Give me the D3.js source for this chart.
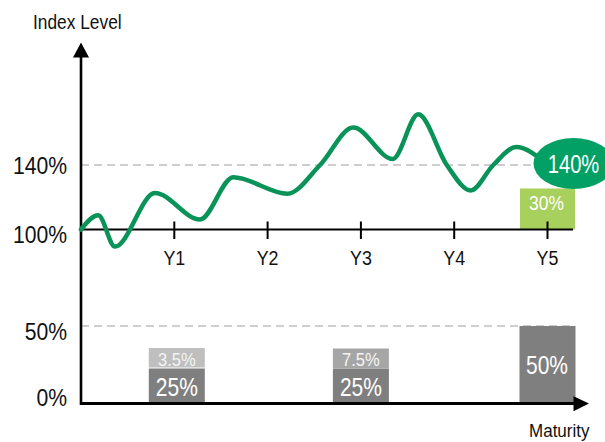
<!DOCTYPE html>
<html>
<head>
<meta charset="utf-8">
<script src="https://cdn.jsdelivr.net/npm/d3@7/dist/d3.min.js"></script>
<style>
  html, body { margin: 0; padding: 0; background: #ffffff; }
  svg { display: block; }
  text { font-family: "Liberation Sans", Arial, sans-serif; }
</style>
</head>
<body>
<svg id="chart" width="605" height="442"></svg>
<script>
// ---------------- DATA ----------------
const yearTicks = [1, 2, 3, 4, 5];
const yearLabels = ["Y1", "Y2", "Y3", "Y4", "Y5"];

// index level path (time in years, level in %)
const pathYears  = [0, 0.185, 0.364, 0.793, 1.275, 1.632, 2.213, 2.562, 2.918, 3.341, 3.615, 3.920, 4.177, 4.419, 4.662, 5.0];
const pathLevels = [100, 108.8, 89.4, 122.6, 106.2, 132.4, 122.2, 140, 163.2, 143.7, 171.4, 140, 124.2, 140, 151.1, 140];

const levelTicks = [100, 140];
const levelTickLabels = ["100%", "140%"];
const payoutTicks = [0, 50];
const payoutTickLabels = ["0%", "50%"];

const redemptionYears  = [1, 3, 5];
const redemptionValues = [25, 25, 50];
const couponYears  = [1, 3];
const couponValues = [3.5, 7.5];
const finalCouponYear = 5;
const finalCoupon = 30;
const finalLevel = 140;

const yTitle = "Index Level";
const xTitle = "Maturity";

// ---------------- LAYOUT / STYLE ----------------
const svg = d3.select("#chart");
const axisX = 81;
const SX = 0.87; // horizontal text compression

const x = d3.scaleLinear().domain([0, 5]).range([81, 547.5]);
const yTop = d3.scaleLinear().domain([100, 140]).range([229.5, 165]);
const yLow = d3.scaleLinear().domain([0, 25, 50]).range([403.5, 368.5, 326]);

const C = {
  line: "#0a9358",
  bubble: "#03a065",
  coupon5: "#a8d05c",
  dark: "#7f7f7f",
  light1: "#bfbfbf",
  light3: "#a6a6a6",
  dash: "#bfbfbf"
};

function txt(g, s, px, py, size, anchor, fill, sx) {
  return g.append("text")
    .attr("transform", `translate(${px},${py}) scale(${sx === undefined ? SX : sx},1)`)
    .attr("text-anchor", anchor)
    .attr("font-size", size)
    .attr("fill", fill)
    .text(s);
}

const g = svg.append("g");

// dashed reference lines
g.append("line").attr("x1", axisX).attr("x2", 575)
  .attr("y1", yTop(140)).attr("y2", yTop(140))
  .attr("stroke", C.dash).attr("stroke-width", 1.5).attr("stroke-dasharray", "8,5");
g.append("line").attr("x1", axisX).attr("x2", 575)
  .attr("y1", yLow(50)).attr("y2", yLow(50))
  .attr("stroke", C.dash).attr("stroke-width", 1.5).attr("stroke-dasharray", "8,5");

// final coupon box (30%)
const bw = 56;
const finalBoxH = 41;
g.append("rect")
  .attr("x", x(finalCouponYear) - bw / 2 + 0.5).attr("width", bw - 1)
  .attr("y", yTop(100) - finalBoxH).attr("height", finalBoxH)
  .attr("fill", C.coupon5);
txt(g, finalCoupon + "%", x(finalCouponYear) - 1, yTop(100) - 19.5, 20, "middle", "#ffffff");

// redemption bars
redemptionYears.forEach((yr, i) => {
  const v = redemptionValues[i];
  g.append("rect")
    .attr("x", x(yr) - bw / 2 + (yr === 1 ? 2.5 : 0)).attr("width", bw)
    .attr("y", yLow(v)).attr("height", yLow(0) - yLow(v))
    .attr("fill", C.dark);
});
// coupon boxes on top of redemption bars
const couponBoxH = 20;
couponYears.forEach((yr, i) => {
  const idx = redemptionYears.indexOf(yr);
  const base = yLow(redemptionValues[idx]);
  const off = (yr === 1 ? 2.5 : 0);
  g.append("rect")
    .attr("x", x(yr) - bw / 2 + off).attr("width", bw)
    .attr("y", base - couponBoxH - (yr === 1 ? 0.5 : 0)).attr("height", couponBoxH - (yr === 1 ? 0.5 : 0))
    .attr("fill", yr === 1 ? C.light1 : C.light3);
  txt(g, couponValues[i] + "%", x(yr) + off, base - 2.5, 19, "middle", "#f4f4f4");
});
redemptionYears.forEach((yr, i) => {
  const v = redemptionValues[i];
  const off = (yr === 1 ? 2.5 : 0);
  const cy = v === 50 ? (yLow(v) + yLow(0)) / 2 + 9.5 : yLow(0) - 8;
  txt(g, v + "%", x(yr) + off - (v === 50 ? 0.5 : 0), cy, 25, "middle", "#ffffff", 0.84);
});

// upper horizontal axis
g.append("line").attr("x1", axisX).attr("x2", 573)
  .attr("y1", yTop(100)).attr("y2", yTop(100))
  .attr("stroke", "#000").attr("stroke-width", 2);
yearTicks.forEach((yr, i) => {
  g.append("line").attr("x1", x(yr)).attr("x2", x(yr))
    .attr("y1", yTop(100) - 8).attr("y2", yTop(100) + 9.5)
    .attr("stroke", "#000").attr("stroke-width", 2);
  txt(g, yearLabels[i], x(yr), 265, 20.5, "middle", "#111");
});

// bottom axis with arrow
g.append("line").attr("x1", axisX).attr("x2", 576)
  .attr("y1", yLow(0)).attr("y2", yLow(0))
  .attr("stroke", "#000").attr("stroke-width", 3);
g.append("path")
  .attr("d", `M573.5,${yLow(0) - 7.2}L589,${yLow(0)}L573.5,${yLow(0) + 7.8}Z`)
  .attr("fill", "#000");

// vertical axis with arrow
g.append("line").attr("x1", axisX).attr("x2", axisX)
  .attr("y1", 55).attr("y2", yLow(0) + 1.5)
  .attr("stroke", "#000").attr("stroke-width", 2.6);
g.append("path")
  .attr("d", `M${axisX - 8},57.5L${axisX},42.5L${axisX + 8},57.5Z`)
  .attr("fill", "#000");

// y tick labels
const levelLabelDy = { 100: 13.5, 140: 9 };
levelTicks.forEach((v, i) => {
  txt(g, levelTickLabels[i], 67, yTop(v) + levelLabelDy[v], 23.5, "end", "#111", 0.9);
});
const payoutLabelDy = { 0: 2, 50: 13.5 };
payoutTicks.forEach((v, i) => {
  txt(g, payoutTickLabels[i], 67, yLow(v) + payoutLabelDy[v], 23.5, "end", "#111", 0.9);
});

// titles
txt(g, yTitle, 33, 29, 19.5, "start", "#111", 0.89);
txt(g, xTitle, 529, 437, 18.5, "start", "#111", 0.92);

// index path
const line = d3.line()
  .x((d, i) => x(pathYears[i]))
  .y((d, i) => yTop(pathLevels[i]))
  .curve(d3.curveMonotoneX);
g.append("path")
  .datum(pathLevels)
  .attr("d", line)
  .attr("fill", "none")
  .attr("stroke", C.line)
  .attr("stroke-width", 4.5)
  .attr("stroke-linecap", "round");

// final level bubble
const bx = x(5) + 26, by = yTop(finalLevel) - 1.5;
g.append("ellipse").attr("cx", bx).attr("cy", by).attr("rx", 40).attr("ry", 25.5)
  .attr("fill", C.bubble);
txt(g, finalLevel + "%", bx, by + 9.5, 25.5, "middle", "#ffffff", 0.79);
</script>
</body>
</html>
